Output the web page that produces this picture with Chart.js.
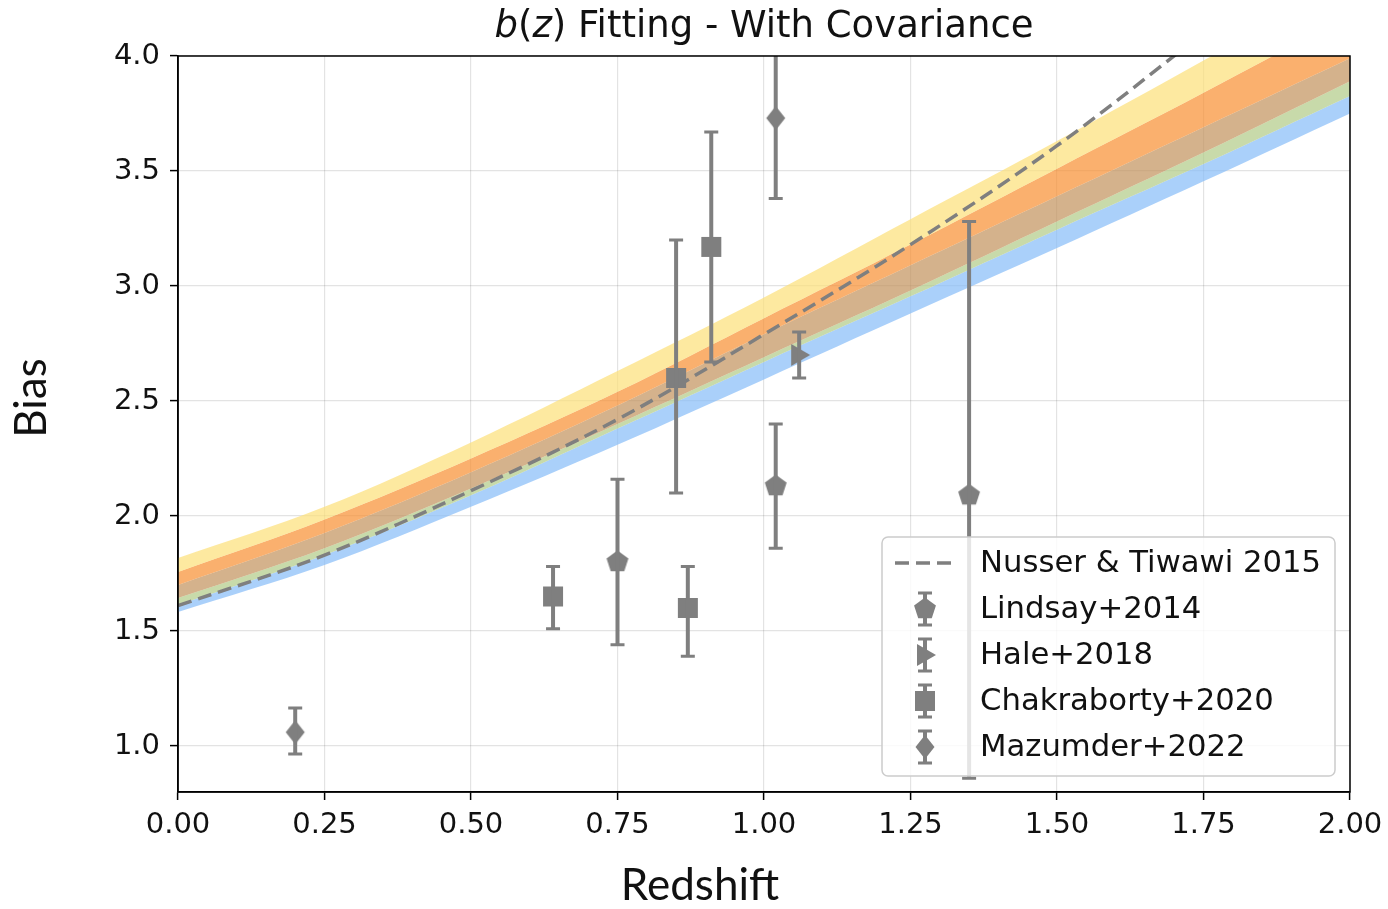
<!DOCTYPE html>
<html>
<head>
<meta charset="utf-8">
<script src="https://cdn.jsdelivr.net/npm/chart.js@4.4.0/dist/chart.umd.min.js"></script>
<style>
  html, body { margin: 0; padding: 0; background: #fff; }
  canvas { display: block; }
</style>
</head>
<body>
<canvas id="biasChart" width="1388" height="909"></canvas>
<script>
const zGrid = [0, 0.25, 0.5, 0.75, 1.0, 1.25, 1.5, 1.75, 2.0];
// band edges, top to bottom
const yellowTop = [1.817, 2.04, 2.32, 2.63, 2.95, 3.29, 3.63, 3.98, 4.34];
const orangeTop = [1.757, 1.985, 2.25, 2.54, 2.86, 3.18, 3.51, 3.84, 4.18];
const tanTop    = [1.700, 1.926, 2.19, 2.48, 2.79, 3.09, 3.39, 3.69, 3.99];
const greenTop  = [1.643, 1.86, 2.12, 2.40, 2.69, 2.98, 3.28, 3.58, 3.89];
const blueTop   = [1.613, 1.83, 2.09, 2.38, 2.67, 2.955, 3.245, 3.53, 3.826];
const blueBot   = [1.583, 1.787, 2.04, 2.31, 2.594, 2.88, 3.165, 3.455, 3.75];

// Nusser & Tiwawi 2015 curve
const nusserZ = [0, 0.25, 0.5, 0.75, 1.0, 1.25, 1.5, 1.75];
const nusserB = [1.61, 1.83, 2.11, 2.42, 2.79, 3.18, 3.61, 4.10];

const lindsayZ  = [0.75, 1.02, 1.35];
const lindsayB  = [1.80, 2.13, 2.09];
const lindsayLo = [1.44, 1.86, 0.86];
const lindsayHi = [2.16, 2.40, 3.28];

const haleZ  = [1.06];
const haleB  = [2.70];
const haleLo = [2.60];
const haleHi = [2.80];

const chakZ  = [0.64, 0.85, 0.87, 0.91];
const chakB  = [1.65, 2.60, 1.60, 3.17];
const chakLo = [1.51, 2.10, 1.39, 2.67];
const chakHi = [1.78, 3.20, 1.78, 3.67];

const mazZ  = [0.20, 1.02];
const mazB  = [1.06, 3.73];
const mazLo = [0.965, 3.38];
const mazHi = [1.165, 4.08];

const xTicks = [0, 0.25, 0.5, 0.75, 1.0, 1.25, 1.5, 1.75, 2.0];
const yTicks = [1.0, 1.5, 2.0, 2.5, 3.0, 3.5, 4.0];

const legendLabels = ['Nusser & Tiwawi 2015', 'Lindsay+2014', 'Hale+2018', 'Chakraborty+2020', 'Mazumder+2022'];

const grey = '#7f7f7f';
const tickFont = { family: 'DejaVu Sans', size: 29 };

function makeMarker(kind) {
  const c = document.createElement('canvas');
  c.width = 28; c.height = 28;
  const g = c.getContext('2d');
  g.fillStyle = grey;
  g.translate(14, 14);
  drawShape(g, kind);
  return c;
}

function drawShape(g, kind) {
  g.beginPath();
  if (kind === 'pentagon') {
    for (let k = 0; k < 5; k++) {
      const a = -Math.PI / 2 + k * 2 * Math.PI / 5;
      g.lineTo(11.5 * Math.cos(a), 11.5 * Math.sin(a));
    }
  } else if (kind === 'diamond') {
    g.moveTo(0, -12); g.lineTo(9.5, 0); g.lineTo(0, 12); g.lineTo(-9.5, 0);
  } else if (kind === 'square') {
    g.rect(-10, -10, 20, 20);
  } else if (kind === 'tri') {
    g.moveTo(11, 0); g.lineTo(-8, -11); g.lineTo(-8, 11);
  }
  g.closePath();
  g.fill();
}

const pts = (zs, bs) => zs.map((z, i) => ({ x: z, y: bs[i] }));

function bandEdge(vals, color) {
  return {
    data: pts(zGrid, vals),
    showLine: true,
    borderWidth: 0,
    borderColor: 'transparent',
    pointRadius: 0,
    fill: color ? '-1' : false,
    backgroundColor: color || 'transparent',
    tension: 0.35,
    order: 5
  };
}

function markerSet(zs, bs, kind) {
  return {
    data: pts(zs, bs),
    pointStyle: makeMarker(kind),
    pointRadius: 11,
    showLine: false,
    order: 0
  };
}

const errGroups = [
  { z: lindsayZ, lo: lindsayLo, hi: lindsayHi },
  { z: haleZ, lo: haleLo, hi: haleHi },
  { z: chakZ, lo: chakLo, hi: chakHi },
  { z: mazZ, lo: mazLo, hi: mazHi }
];

function errorBar(ctx, px, pLo, pHi) {
  ctx.lineWidth = 4;
  ctx.beginPath(); ctx.moveTo(px, pLo); ctx.lineTo(px, pHi); ctx.stroke();
  ctx.lineWidth = 3;
  ctx.beginPath();
  ctx.moveTo(px - 7, pLo); ctx.lineTo(px + 7, pLo);
  ctx.moveTo(px - 7, pHi); ctx.lineTo(px + 7, pHi);
  ctx.stroke();
}

const extras = {
  id: 'extras',
  afterDatasetsDraw(chart) {
    const { ctx, chartArea: ca, scales: { x, y } } = chart;
    ctx.save();
    ctx.beginPath();
    ctx.rect(ca.left, ca.top, ca.right - ca.left, ca.bottom - ca.top);
    ctx.clip();
    ctx.strokeStyle = grey;
    errGroups.forEach(gr => {
      gr.z.forEach((z, i) => {
        errorBar(ctx, x.getPixelForValue(z), y.getPixelForValue(gr.lo[i]), y.getPixelForValue(gr.hi[i]));
      });
    });
    ctx.restore();

    ctx.save();
    ctx.strokeStyle = '#000';
    ctx.lineWidth = 1.5;
    ctx.strokeRect(ca.left, ca.top, ca.right - ca.left, ca.bottom - ca.top);
    ctx.restore();
  },
  afterDraw(chart) {
    const { ctx, chartArea: ca } = chart;
    ctx.save();
    // title, with b and z in italics
    const parts = [['b', true], ['(', false], ['z', true], [') Fitting - With Covariance', false]];
    const fontFor = it => (it ? 'italic ' : '') + '37px "DejaVu Sans"';
    let total = 0;
    parts.forEach(p => { ctx.font = fontFor(p[1]); total += ctx.measureText(p[0]).width; });
    let tx = (ca.left + ca.right) / 2 - total / 2;
    ctx.fillStyle = '#111';
    ctx.textBaseline = 'alphabetic';
    ctx.textAlign = 'left';
    parts.forEach(p => {
      ctx.font = fontFor(p[1]);
      ctx.fillText(p[0], tx, 37);
      tx += ctx.measureText(p[0]).width;
    });

    // axis titles
    ctx.font = '44px Lato';
    ctx.textAlign = 'center';
    ctx.textBaseline = 'middle';
    ctx.fillText('Redshift', 700, 886);
    ctx.save();
    ctx.translate(32, 398);
    ctx.rotate(-Math.PI / 2);
    ctx.fillText('Bias', 0, 0);
    ctx.restore();

    // legend
    const bx = 882, by = 537, bw = 453, bh = 239;
    ctx.beginPath();
    ctx.roundRect(bx, by, bw, bh, 6);
    ctx.fillStyle = 'rgba(255,255,255,0.8)';
    ctx.fill();
    ctx.strokeStyle = '#cccccc';
    ctx.lineWidth = 1.5;
    ctx.stroke();

    const kinds = [null, 'pentagon', 'tri', 'square', 'diamond'];
    ctx.font = '30.7px "DejaVu Sans"';
    ctx.textAlign = 'left';
    ctx.textBaseline = 'middle';
    legendLabels.forEach((lab, i) => {
      const ry = 563 + i * 46;
      const mx = 925;
      if (i === 0) {
        ctx.save();
        ctx.strokeStyle = grey;
        ctx.lineWidth = 3.5;
        ctx.setLineDash([14, 7]);
        ctx.beginPath(); ctx.moveTo(895, ry); ctx.lineTo(957, ry); ctx.stroke();
        ctx.restore();
      } else {
        ctx.save();
        ctx.strokeStyle = grey;
        ctx.fillStyle = grey;
        errorBar(ctx, mx, ry + 16, ry - 16);
        ctx.translate(mx, ry);
        drawShape(ctx, kinds[i]);
        ctx.restore();
      }
      ctx.fillStyle = '#111';
      ctx.fillText(lab, 980, ry + 1);
    });
    ctx.restore();
  }
};

new Chart(document.getElementById('biasChart'), {
  type: 'scatter',
  data: {
    datasets: [
      bandEdge(yellowTop, null),
      bandEdge(orangeTop, 'rgba(252,224,119,0.7)'),
      bandEdge(tanTop, 'rgba(248,142,48,0.7)'),
      bandEdge(greenTop, 'rgba(194,145,91,0.7)'),
      bandEdge(blueTop, 'rgba(176,202,134,0.7)'),
      bandEdge(blueBot, 'rgba(134,188,248,0.7)'),
      {
        data: pts(nusserZ, nusserB),
        showLine: true,
        borderColor: grey,
        borderWidth: 3.5,
        borderDash: [14, 7],
        pointRadius: 0,
        fill: false,
        tension: 0.35,
        order: 2
      },
      markerSet(lindsayZ, lindsayB, 'pentagon'),
      markerSet(haleZ, haleB, 'tri'),
      markerSet(chakZ, chakB, 'square'),
      markerSet(mazZ, mazB, 'diamond')
    ]
  },
  options: {
    responsive: false,
    animation: false,
    devicePixelRatio: 1,
    layout: { padding: { top: 56, right: 38, left: 0, bottom: 0 } },
    plugins: {
      legend: { display: false },
      tooltip: { enabled: false },
      title: { display: false }
    },
    scales: {
      x: {
        type: 'linear',
        min: 0,
        max: 2,
        afterBuildTicks: s => { s.ticks = xTicks.map(v => ({ value: v })); },
        afterFit: s => { s.height = 117; s.paddingLeft = 0; s.paddingRight = 0; },
        ticks: { font: tickFont, color: '#111', padding: 8, callback: v => v.toFixed(2), maxRotation: 0, autoSkip: false },
        grid: { color: 'rgba(0,0,0,0.11)', lineWidth: 1.2, tickColor: '#000', tickLength: 8, tickWidth: 1.5 },
        border: { color: '#000', width: 1.5 }
      },
      y: {
        type: 'linear',
        min: 0.8,
        max: 4.0,
        afterBuildTicks: s => { s.ticks = yTicks.map(v => ({ value: v })); },
        afterFit: s => { s.width = 178; s.paddingTop = 0; s.paddingBottom = 0; },
        ticks: { font: tickFont, color: '#111', padding: 10, callback: v => v.toFixed(1), autoSkip: false },
        grid: { color: 'rgba(0,0,0,0.11)', lineWidth: 1.2, tickColor: '#000', tickLength: 8, tickWidth: 1.5 },
        border: { color: '#000', width: 1.5 }
      }
    }
  },
  plugins: [extras]
});
</script>
</body>
</html>
